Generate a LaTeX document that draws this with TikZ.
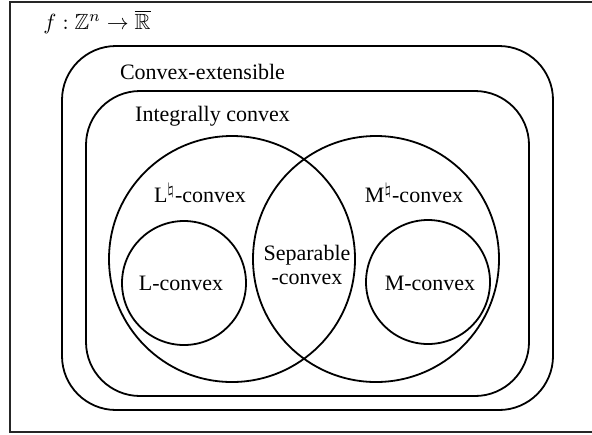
\documentclass[tikz,border=0pt]{standalone}
\usepackage{amssymb}
\usepackage{fontspec}
\setmainfont{Liberation Serif}
\newfontfamily\tmsfont{Liberation Serif}
\begin{document}
\begin{tikzpicture}[x=0.5pt,y=-0.5pt,
  every node/.style={font=\tmsfont\fontsize{11}{13}\selectfont, inner sep=0pt},
  frameline/.style={line width=0.6pt, draw=black!85},
  setbox/.style={draw, line width=0.9pt, rounded corners=27pt, inner sep=0pt},
  setcircle/.style={draw, circle, line width=0.9pt, inner sep=0pt},
  lbl/.style={align=center}]
\useasboundingbox (0,0) rectangle (592,434);
% outer frame (its right side lies beyond the picture)
\coordinate (ftr) at (600,2);
\coordinate (ftl) at (10,2);
\coordinate (fbl) at (10,432);
\coordinate (fbr) at (600,432);
\draw[frameline] (ftr) -- (ftl) -- (fbl) -- (fbr);
% regions
\node[setbox, minimum width=245.5pt, minimum height=182pt] (ext) at (307.5,228) {};
\node[setbox, minimum width=221.5pt, minimum height=152.5pt] (ic) at (307.5,243.5) {};
\node[setcircle, minimum size=123pt] (Ln) at (232,259) {};
\node[setcircle, minimum size=123pt] (Mn) at (376,259) {};
\node[setcircle, minimum size=62pt] (L) at (184,283) {};
\node[setcircle, minimum size=62pt] (M) at (428,282) {};
% labels
\node (f) at (97,22) {$f:\mathbb{Z}^n\to\overline{\mathbb{R}}$};
\node (text) at (202.5,72) {Convex-extensible};
\node (tic) at (212.5,116.5) {Integrally convex};
\node (tLn) at (200,193) {L$^\natural$-convex};
\node (tMn) at (414,193) {M$^\natural$-convex};
\node[lbl] (tsep) at (307,264.5) {Separable\\[-1pt]-convex};
\node (tL) at (181,283) {L-convex};
\node (tM) at (430,283) {M-convex};
\end{tikzpicture}
\end{document}
